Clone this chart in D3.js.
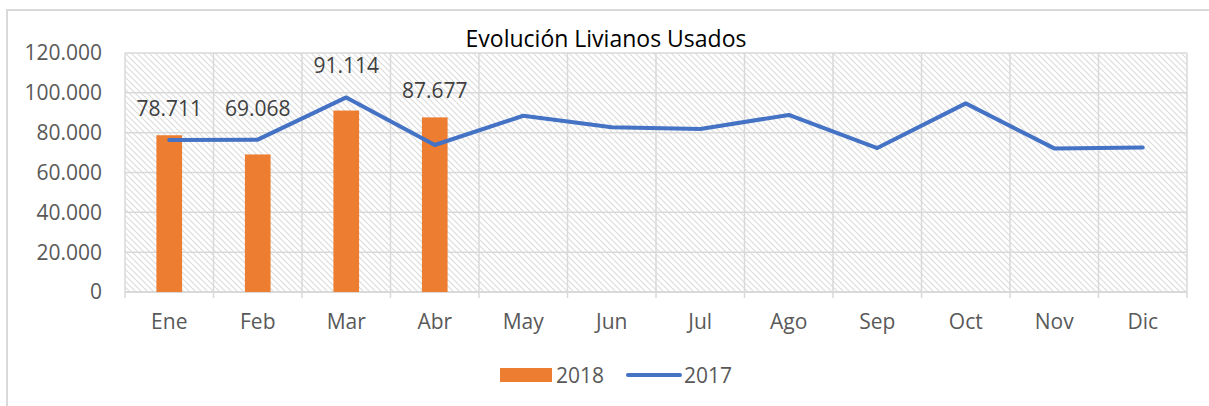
<!DOCTYPE html>
<html>
<head>
<meta charset="utf-8">
<script src="https://cdn.jsdelivr.net/npm/d3@7"></script>
<style>
  body { margin: 0; background: #fff; }
  svg { display: block; font-family: "Open Sans", sans-serif; }
</style>
</head>
<body>
<div id="G"></div>
<script>
// data
var months = ["Ene", "Feb", "Mar", "Abr", "May", "Jun", "Jul", "Ago", "Sep", "Oct", "Nov", "Dic"];
var values2018 = [78711, 69068, 91114, 87677];
var values2017 = [76300, 76500, 97700, 73800, 88500, 82700, 81800, 88900, 72300, 94700, 72100, 72600];
var yTicks = [0, 20000, 40000, 60000, 80000, 100000, 120000];

var W = 1209, H = 406;
var Border = { top: 53, right: 22, bottom: 114, left: 125 },
  width = W - Border.left - Border.right,
  height = H - Border.top - Border.bottom;

var loc = d3.formatLocale({ decimal: ",", thousands: ".", grouping: [3], currency: ["", ""] });
var fmt = loc.format(",d");

var svg = d3.select("#G")
  .append("svg")
  .attr("width", W)
  .attr("height", H);

// chart frame
svg.append("rect")
  .attr("x", 7).attr("y", 10)
  .attr("width", W + 20).attr("height", H + 20)
  .attr("fill", "#fff")
  .attr("stroke", "#d9d9d9")
  .attr("stroke-width", 2);

// hatch pattern for plot area
var pat = svg.append("defs").append("pattern")
  .attr("id", "hatch")
  .attr("patternUnits", "userSpaceOnUse")
  .attr("width", 6).attr("height", 6);
pat.append("rect").attr("width", 6).attr("height", 6).attr("fill", "#fff");
pat.append("path")
  .attr("d", "M-1,-1 L7,7 M-1,5 L1,7 M5,-1 L7,1")
  .attr("stroke", "#dcdcdc")
  .attr("stroke-width", 1.1);

var g = svg.append("g")
  .attr("transform", "translate(" + Border.left + "," + Border.top + ")");

var x = d3.scaleBand().domain(months).range([0, width]);
var y = d3.scaleLinear().domain([0, 120000]).range([height, 0]);

g.append("rect")
  .attr("width", width).attr("height", height)
  .attr("fill", "url(#hatch)");

// horizontal grid
g.selectAll(".hg").data(yTicks).enter().append("line")
  .attr("x1", 0).attr("x2", width)
  .attr("y1", d => y(d)).attr("y2", d => y(d))
  .attr("stroke", "#d9d9d9")
  .attr("stroke-width", d => d === 0 ? 2 : 1.5);

// vertical grid / category ticks
var edges = months.map(m => x(m)).concat([width]);
g.selectAll(".vg").data(edges).enter().append("line")
  .attr("x1", d => d).attr("x2", d => d)
  .attr("y1", 0).attr("y2", height + 6)
  .attr("stroke", "#d9d9d9")
  .attr("stroke-width", 1.5);

// y labels
g.selectAll(".yl").data(yTicks).enter().append("text")
  .attr("x", -23)
  .attr("y", d => y(d))
  .attr("dy", "0.35em")
  .attr("text-anchor", "end")
  .attr("font-size", 21)
  .attr("fill", "#595959")
  .text(d => fmt(d));

// x labels
g.selectAll(".xl").data(months).enter().append("text")
  .attr("x", d => x(d) + x.bandwidth() / 2)
  .attr("y", height + 37)
  .attr("text-anchor", "middle")
  .attr("font-size", 21)
  .attr("fill", "#595959")
  .text(d => d);

// bars 2018
var bw = x.bandwidth() * 0.29;
g.selectAll(".bar").data(values2018).enter().append("rect")
  .attr("x", (d, i) => x(months[i]) + x.bandwidth() / 2 - bw / 2)
  .attr("y", d => y(d))
  .attr("width", bw)
  .attr("height", d => height - y(d))
  .attr("fill", "#ED7D31");

// line 2017
g.append("path")
  .datum(values2017)
  .attr("fill", "none")
  .attr("stroke", "#4472C4")
  .attr("stroke-width", 4)
  .attr("stroke-linecap", "round")
  .attr("stroke-linejoin", "round")
  .attr("d", d3.line()
    .x((d, i) => x(months[i]) + x.bandwidth() / 2)
    .y(d => y(d)));

// data labels above whichever mark is higher
g.selectAll(".lbl").data(values2018).enter().append("text")
  .attr("x", (d, i) => x(months[i]) + x.bandwidth() / 2)
  .attr("y", (d, i) => Math.min(y(d), y(values2017[i])) - (y(values2017[i]) < y(d) ? 24 : 19))
  .attr("text-anchor", "middle")
  .attr("font-size", 21)
  .attr("fill", "#404040")
  .text(d => fmt(d));

// title
svg.append("text")
  .attr("x", 606).attr("y", 47)
  .attr("text-anchor", "middle")
  .attr("font-size", 23)
  .attr("fill", "#000")
  .text("Evolución Livianos Usados");

// legend
var lg = svg.append("g");
lg.append("rect")
  .attr("x", 500).attr("y", 368)
  .attr("width", 52).attr("height", 14)
  .attr("fill", "#ED7D31");
lg.append("text")
  .attr("x", 556).attr("y", 383)
  .attr("font-size", 21).attr("fill", "#595959")
  .text("2018");
lg.append("line")
  .attr("x1", 628).attr("x2", 680)
  .attr("y1", 375).attr("y2", 375)
  .attr("stroke", "#4472C4")
  .attr("stroke-width", 4)
  .attr("stroke-linecap", "round");
lg.append("text")
  .attr("x", 684).attr("y", 383)
  .attr("font-size", 21).attr("fill", "#595959")
  .text("2017");
</script>
</body>
</html>
